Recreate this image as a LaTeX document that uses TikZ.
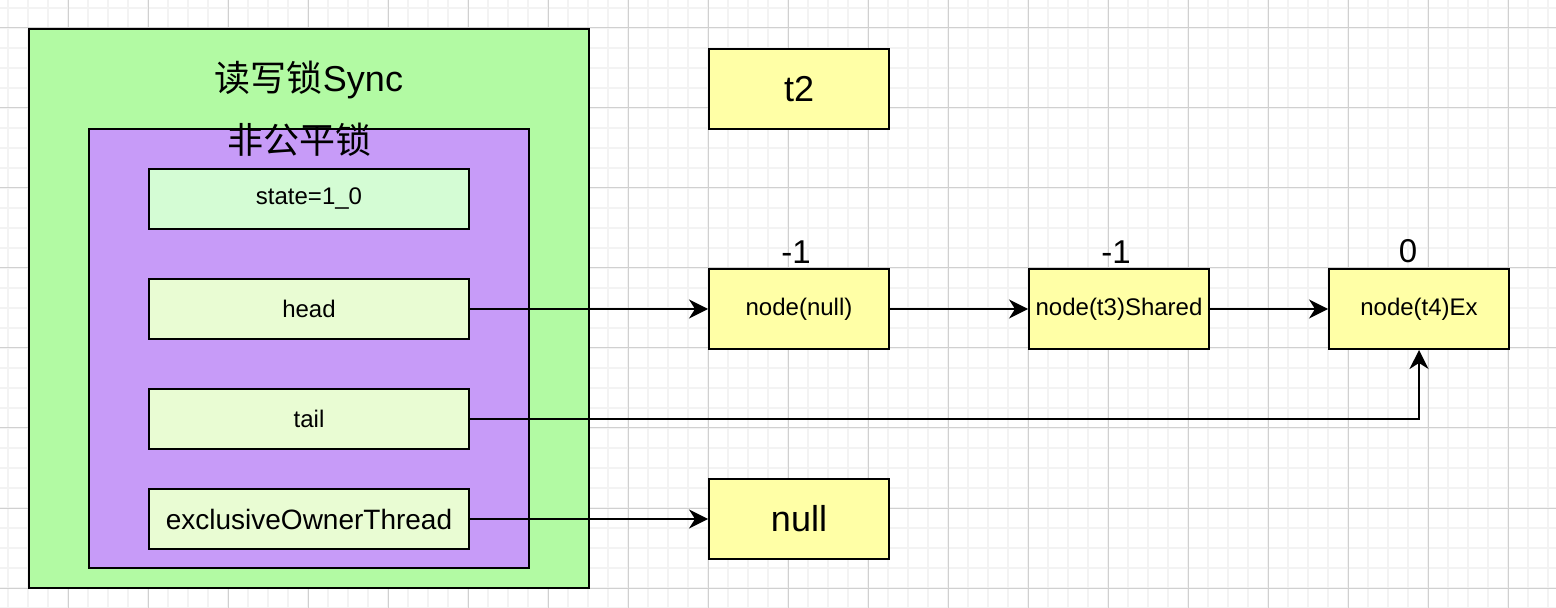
\documentclass[tikz,border=0pt]{standalone}
\usepackage{fontspec}
\setmainfont{Liberation Sans}
\newfontfamily\cjk{Noto Sans CJK SC}
\usetikzlibrary{arrows.meta}
\definecolor{syncgreen}{RGB}{178,250,163}
\definecolor{unfairpurple}{RGB}{199,155,248}
\definecolor{statefill}{RGB}{212,252,212}
\definecolor{fieldfill}{RGB}{233,252,211}
\definecolor{queueyellow}{RGB}{255,255,166}
\definecolor{gridminor}{RGB}{243,243,243}
\definecolor{gridmajor}{RGB}{208,208,208}
\begin{document}
\begin{tikzpicture}[x=0.5pt,y=-0.5pt,line join=miter,>={Stealth[length=9.5pt,width=9.5pt,inset=3pt]},
	box/.style={draw,line width=1pt,inner sep=0pt},
	field/.style={box,fill=fieldfill,minimum width=160pt,minimum height=30pt,font=\fontsize{12}{14}\selectfont},
	qnode/.style={box,fill=queueyellow,minimum width=90pt,minimum height=40pt,font=\fontsize{12}{14}\selectfont},
	waitlbl/.style={font=\fontsize{16.5}{18}\selectfont,inner sep=0pt}]
				\useasboundingbox (0,0) rectangle (1556,608);
				% grid
				\foreach \x in {8,28,...,1548} \draw[gridminor,line width=0.8pt] (\x,0) -- (\x,608);
				\foreach \y in {8,28,...,608} \draw[gridminor,line width=0.8pt] (0,\y) -- (1556,\y);
				\foreach \x in {68,148,...,1548} \draw[gridmajor,line width=0.5pt] (\x,0) -- (\x,608);
				\foreach \y in {28,108,...,588} \draw[gridmajor,line width=0.5pt] (0,\y) -- (1556,\y);
				% sync
				\node[box,fill=syncgreen,minimum width=280pt,minimum height=279.5pt] (sync) at (309,308.5) {};
				\node[font=\fontsize{18}{20}\selectfont,inner sep=0pt] (syncTitle) at (309,80) {{\cjk 读写锁}Sync};
				\node[box,fill=unfairpurple,minimum width=220pt,minimum height=219.5pt] (unfair) at (309,348.5) {};
				\node[font=\fontsize{18}{20}\selectfont\cjk,inner sep=0pt] (unfairTitle) at (299,140) {非公平锁};
				\node[field,fill=statefill] (state) at (309,199) {state=1\_0};
				\node[field] (head) at (309,309) {head};
				\node[field] (tail) at (309,419) {tail};
				\node[field,font=\fontsize{14}{16}\selectfont] (owner) at (309,519) {exclusiveOwnerThread};
				% queue
				\node[qnode,font=\fontsize{18}{20}\selectfont] (t2) at (799,89) {t2};
				\node[qnode] (nodeNull) at (799,309) {node(null)};
				\node[qnode] (nodeT3) at (1119,309) {node(t3)Shared};
				\node[qnode] (nodeT4) at (1419,309) {node(t4)Ex};
				\node[qnode,font=\fontsize{18}{20}\selectfont] (ownerNull) at (799,519) {null};
				\node[waitlbl] (lblNull) at (796,252) {-1};
				\node[waitlbl] (lblT3) at (1116,252) {-1};
				\node[waitlbl] (lblT4) at (1408,251) {0};
				% links
				\draw [->,line width=1pt] (head) -- (nodeNull);
				\draw [->,line width=1pt] (nodeNull) -- (nodeT3);
				\draw [->,line width=1pt] (nodeT3) -- (nodeT4);
				\draw [->,line width=1pt] (tail) -| (nodeT4);
				\draw [->,line width=1pt] (owner) -- (ownerNull);
			\end{tikzpicture}
\end{document}
